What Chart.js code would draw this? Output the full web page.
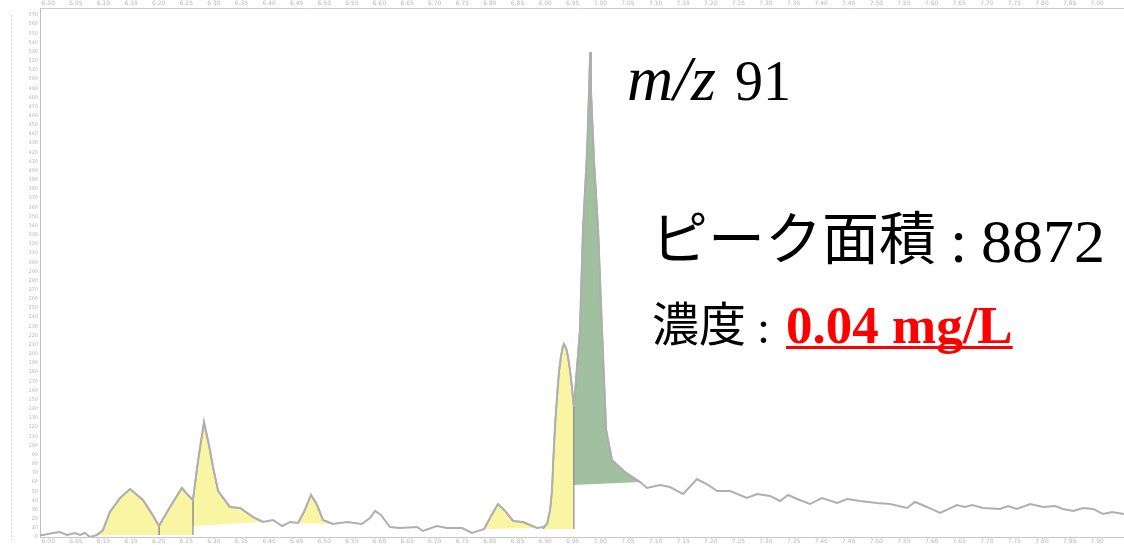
<!DOCTYPE html>
<html>
<head>
<meta charset="utf-8">
<style>
  html, body { margin: 0; padding: 0; background: #fff; overflow: hidden; }
  #wrap { position: relative; width: 1124px; height: 545px; }
  canvas { display: block; }
</style>
<script src="https://cdn.jsdelivr.net/npm/chart.js@4.4.1/dist/chart.umd.min.js"></script>
</head>
<body>
<div id="wrap"><canvas id="c" width="1124" height="545"></canvas></div>
<script>
// Extracted-ion chromatogram, m/z 91 (x: scan units, one tick every 10 scans; y: intensity)
const tickLabels = [
  '6.00','6.05','6.10','6.15','6.20','6.25','6.30','6.35','6.40','6.45',
  '6.50','6.55','6.60','6.65','6.70','6.75','6.80','6.85','6.90','6.95',
  '7.00','7.05','7.10','7.15','7.20','7.25','7.30','7.35','7.40','7.45',
  '7.50','7.55','7.60','7.65','7.70','7.75','7.80','7.85','7.90'
];

// Full trace
const traceX = [
  -3.0, -1.9, 1.7, 4.2, 6.8, 9.7, 11.5, 13.3, 15.1, 17.6,
  19.8, 22.3, 26.0, 29.6, 34.3, 37.6, 40.1, 44.1, 48.4, 50.6,
  52.4, 54.2, 56.4, 58.2, 59.7, 61.5, 65.8, 69.5, 74.2, 77.8,
  81.4, 84.7, 87.6, 90.5, 92.6, 95.2, 97.4, 99.5, 103.1, 108.2,
  113.6, 116.5, 118.4, 120.5, 123.8, 127.4, 133.6, 135.7, 140.8, 144.4,
  149.9, 153.5, 157.9, 160.4, 162.9, 165.5, 168.4, 172.0, 174.5, 177.1,
  179.2, 180.7, 181.8, 182.5, 182.9, 183.6, 184.3, 185.0, 185.7, 186.3,
  186.8, 187.6, 188.3, 189.0, 189.7, 190.4,
  192.6, 193.7, 195.2, 195.9, 196.3, 196.6, 197.7, 199.2, 200.6, 202.1,
  204.2, 208.9, 214.4, 216.9, 221.6, 225.2, 230.0, 235.0, 239.0, 242.3,
  247.0, 253.1, 256.8, 261.5, 265.1, 268.0, 271.3, 275.9, 280.3, 285.8,
  289.4, 294.1, 300.2, 304.9, 311.1, 314.0, 318.3, 323.1, 329.2, 332.1,
  334.7, 338.6, 344.8, 347.7, 350.9, 355.7, 360.4, 364.7, 367.6, 371.3,
  374.9, 378.5, 382.1, 385.4, 389.7
];
const traceY = [
  2.2, 2.2, 4.4, 5.5, 2.2, 4.4, 2.2, 4.4, 0.0, 2.2,
  7.6, 27.3, 42.6, 52.4, 40.4, 25.1, 12.0, 32.8, 53.5, 45.9,
  40.4, 81.9, 125.5, 100.4, 76.4, 50.2, 32.8, 31.7, 21.8, 16.4,
  18.6, 12.0, 16.4, 15.3, 27.3, 45.9, 34.9, 18.6, 14.2, 16.4,
  14.2, 20.7, 28.4, 24.0, 10.9, 9.8, 10.9, 6.6, 12.0, 9.8,
  9.8, 4.4, 8.7, 22.9, 36.0, 28.4, 17.5, 16.4, 13.1, 9.8,
  10.9, 14.2, 29.5, 51.3, 80.8, 122.3, 152.8, 180.1, 196.5, 206.3,
  210.7, 206.3, 196.5, 182.3, 163.8, 141.9,
  226.0, 335.2, 422.5, 488.0, 529.5, 488.0, 411.6, 335.2, 226.0, 116.8,
  84.1, 71.0, 60.0, 53.5, 56.8, 54.6, 46.9, 63.3, 56.8, 50.2,
  50.2, 42.6, 46.9, 44.8, 39.3, 45.9, 41.5, 36.0, 42.6, 37.1,
  41.5, 39.3, 37.1, 36.0, 31.7, 38.2, 32.8, 26.2, 34.9, 32.8,
  34.9, 31.7, 30.6, 33.8, 30.6, 36.0, 32.8, 33.8, 30.6, 28.4,
  31.7, 30.6, 25.1, 27.3, 25.1
];

// Integrated peak regions (outline of each area: trace part + integration baseline)
const peak1X = [17.6, 19.8, 22.3, 26.0, 29.6, 34.3, 37.6, 40.1, 40.1];
const peak1Y = [2.2, 7.6, 27.3, 42.6, 52.4, 40.4, 25.1, 12.0, 2.2];
const peak2X = [40.1, 40.1, 44.1, 48.4, 50.6, 52.4, 52.4];
const peak2Y = [2.2, 12.0, 32.8, 53.5, 45.9, 40.4, 2.2];
const peak3X = [52.4, 52.4, 54.2, 56.4, 58.2, 59.7, 61.5, 65.8, 69.5, 74.2, 77.8];
const peak3Y = [12.0, 40.4, 81.9, 125.5, 100.4, 76.4, 50.2, 32.8, 31.7, 21.8, 16.4];
const peak4X = [90.5, 92.6, 95.2, 97.4, 99.5, 103.1];
const peak4Y = [15.3, 27.3, 45.9, 34.9, 18.6, 14.2];
const peak5X = [157.9, 160.4, 162.9, 165.5, 168.4, 172.0, 174.5, 177.1];
const peak5Y = [8.7, 22.9, 36.0, 28.4, 17.5, 16.4, 13.1, 9.8];
const peak6X = [179.2, 180.7, 181.8, 182.5, 182.9, 183.6, 184.3, 185.0, 185.7, 186.3,
                186.8, 187.6, 188.3, 189.0, 189.7, 190.4, 190.4];
const peak6Y = [8.7, 14.2, 29.5, 51.3, 80.8, 122.3, 152.8, 180.1, 196.5, 206.3,
                210.7, 206.3, 196.5, 182.3, 163.8, 141.9, 8.7];
// Target compound (m/z 91)
const targetX = [190.4, 190.4, 192.6, 193.7, 195.2, 195.9, 196.3, 196.6, 197.7, 199.2, 200.6, 202.1, 204.2, 208.9, 214.4];
const targetY = [56.8, 141.9, 226.0, 335.2, 422.5, 488.0, 529.5, 488.0, 411.6, 335.2, 226.0, 116.8, 84.1, 71.0, 60.0];

const X_MIN = -3.0, X_MAX = 389.7, Y_MAX = 577.6;

const pts = (xs, ys) => xs.map((x, i) => ({ x, y: ys[i] }));

const YELLOW = 'rgb(250,245,162)';
const GREEN = 'rgb(160,192,160)';
const EDGE = 'rgba(150,150,150,0.9)';

function areaDataset(xs, ys, color) {
  return {
    data: pts(xs, ys),
    fill: 'shape',
    backgroundColor: color,
    borderColor: EDGE,
    borderWidth: 1.5,
    pointRadius: 0,
    tension: 0
  };
}

const datasets = [
  {
    data: pts(traceX, traceY),
    borderColor: 'rgb(175,175,175)',
    borderWidth: 2,
    pointRadius: 0,
    tension: 0,
    fill: false
  },
  areaDataset(targetX, targetY, GREEN),
  areaDataset(peak1X, peak1Y, YELLOW),
  areaDataset(peak2X, peak2Y, YELLOW),
  areaDataset(peak3X, peak3Y, YELLOW),
  areaDataset(peak4X, peak4Y, YELLOW),
  areaDataset(peak5X, peak5Y, YELLOW),
  areaDataset(peak6X, peak6Y, YELLOW)
];

const tickFont = { family: 'DejaVu Sans', size: 6 };
const tickColor = 'rgb(185,185,185)';

function fixedTicks(scale) {
  scale.ticks = tickLabels.map((_, i) => ({ value: i * 10 }));
}

// Annotation text on the chart
const labelPlugin = {
  id: 'labels',
  afterDraw(chart) {
    const ctx = chart.ctx;
    ctx.save();
    // faint frame line at the far left
    ctx.strokeStyle = 'rgba(200,200,200,0.8)';
    ctx.lineWidth = 1;
    ctx.setLineDash([2, 2]);
    ctx.beginPath();
    ctx.moveTo(11.5, 15); ctx.lineTo(11.5, 540);
    ctx.stroke();
    ctx.setLineDash([]);

    ctx.fillStyle = '#000';
    ctx.textBaseline = 'alphabetic';
    ctx.font = 'italic 64px "Liberation Serif"';
    ctx.fillText('m/z', 627, 100);
    ctx.font = '56px "Liberation Serif"';
    ctx.fillText('91', 735, 100);

    ctx.font = '57px "Noto Sans CJK JP"';
    ctx.fillText('ピーク面積', 651, 259);
    ctx.font = '62px "Liberation Serif"';
    ctx.fillText(':', 950, 262);
    ctx.fillText('8872', 981, 262);

    ctx.font = '47px "Noto Sans CJK JP"';
    ctx.fillText('濃度', 652, 341);
    ctx.font = '47px "Liberation Serif"';
    ctx.fillText(':', 757, 343);

    const val = '0.04 mg/L';
    ctx.fillStyle = 'rgb(255,0,0)';
    ctx.font = 'bold 53px "Liberation Serif"';
    ctx.fillText(val, 786, 343);
    const w = ctx.measureText(val).width;
    ctx.fillRect(786, 346, w, 3);
    ctx.restore();
  }
};

new Chart(document.getElementById('c'), {
  type: 'line',
  data: { datasets },
  options: {
    responsive: false,
    devicePixelRatio: 1,
    animation: false,
    layout: { padding: 0 },
    plugins: { legend: { display: false }, tooltip: { enabled: false } },
    scales: {
      x: {
        type: 'linear',
        position: 'bottom',
        min: X_MIN, max: X_MAX,
        afterBuildTicks: fixedTicks,
        afterFit(s) { s.height = 8; },
        grid: { display: false, drawTicks: false },
        border: { display: true, color: 'rgb(200,200,200)', width: 1 },
        ticks: {
          autoSkip: false, maxRotation: 0, padding: 1,
          font: tickFont, color: tickColor,
          callback: (v, i) => tickLabels[i]
        }
      },
      xTop: {
        type: 'linear',
        position: 'top',
        min: X_MIN, max: X_MAX,
        afterBuildTicks: fixedTicks,
        afterFit(s) { s.height = 8; },
        grid: { display: false, drawTicks: false },
        border: { display: true, color: 'rgb(205,205,205)', width: 1 },
        ticks: {
          autoSkip: false, maxRotation: 0, padding: 1,
          font: tickFont, color: tickColor,
          callback: (v, i) => tickLabels[i]
        }
      },
      y: {
        type: 'linear',
        min: 0, max: Y_MAX,
        afterFit(s) { s.width = 40; },
        grid: { display: false, drawTicks: false },
        border: { display: true, color: 'rgb(190,190,190)', width: 1 },
        ticks: {
          stepSize: 10, includeBounds: false, autoSkip: false,
          padding: 2, font: { family: 'DejaVu Sans', size: 5 }, color: tickColor
        }
      }
    }
  },
  plugins: [labelPlugin]
});
</script>
</body>
</html>
